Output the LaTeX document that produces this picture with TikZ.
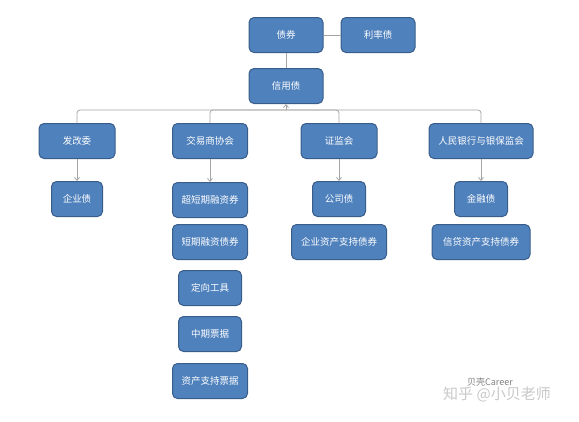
\documentclass[tikz,border=0pt]{standalone}
\usepackage{fontspec}
\setmainfont{Noto Sans CJK SC}
\usetikzlibrary{arrows.meta}
\definecolor{boxblue}{RGB}{79,129,189}
\definecolor{boxedge}{RGB}{56,93,138}
\definecolor{linkgray}{RGB}{165,165,165}
\definecolor{markgray}{RGB}{200,200,200}

\begin{document}
\begin{tikzpicture}[x=1pt,y=1pt,yscale=-1,xscale=1,
    orgbox/.style={draw=boxedge, line width=1pt, fill=boxblue, rounded corners=5pt,
        text=white, font=\fontsize{9.5}{11}\selectfont, minimum height=35pt, inner sep=2pt},
    link/.style={draw=linkgray, line width=0.8pt},
    tip/.style={-{Straight Barb[length=3pt,width=5pt]}}]
    \useasboundingbox (0,0) rectangle (579,421); %same size as the reference

    % Top row
    \node [orgbox, minimum width=74pt] (zhaiquan) at (286,35) {债券};
    \node [orgbox, minimum width=74pt] (lilv) at (378,35) {利率债};
    \node [orgbox, minimum width=74pt] (xinyong) at (286,86) {信用债};

    % Regulators
    \node [orgbox, minimum width=76pt] (fagai) at (77,141) {发改委};
    \node [orgbox, minimum width=75pt] (jiaoyi) at (210,141) {交易商协会};
    \node [orgbox, minimum width=76pt] (zhengjian) at (339,141) {证监会};
    \node [orgbox, minimum width=104pt] (renhang) at (481,141) {人民银行与银保监会};

    % Products
    \node [orgbox, minimum width=51pt] (qiyezhai) at (77,199) {企业债};
    \node [orgbox, minimum width=75pt] (chaoduan) at (210,200) {超短期融资券};
    \node [orgbox, minimum width=75pt] (duanqi) at (210,242) {短期融资债券};
    \node [orgbox, minimum width=63pt] (dingxiang) at (210,288) {定向工具};
    \node [orgbox, minimum width=63pt] (zhongqi) at (210,334) {中期票据};
    \node [orgbox, minimum width=75pt] (zichanpj) at (210,381) {资产支持票据};
    \node [orgbox, minimum width=53pt] (gongsi) at (339,199) {公司债};
    \node [orgbox, minimum width=95pt] (qiyezc) at (339,242) {企业资产支持债券};
    \node [orgbox, minimum width=53pt] (jinrong) at (481,199) {金融债};
    \node [orgbox, minimum width=98pt] (xindai) at (481,242) {信贷资产支持债券};

    % Watermark
    \node [text=markgray, font=\fontsize{15}{17}\selectfont] (zhihu) at (497,394) {知乎 @小贝老师};
    \node [text=gray, font=\fontsize{9}{10}\selectfont] (beike) at (490,382) {贝壳Career};

    % Connectors
    \coordinate (bus) at (286,110);
    \draw [link] (zhaiquan) -- (lilv);
    \draw [link] (zhaiquan) -- (xinyong);
    \draw [link, tip] (bus) -- (xinyong.south);
    \draw [link, rounded corners=3pt] (fagai.north) |- (bus);
    \draw [link, rounded corners=3pt] (jiaoyi.north) |- (bus);
    \draw [link, rounded corners=3pt] (zhengjian.north) |- (bus);
    \draw [link, rounded corners=3pt] (renhang.north) |- (bus);
    \draw [link, tip] (fagai) -- (qiyezhai);
    \draw [link, tip] (jiaoyi) -- (chaoduan);
    \draw [link, tip] (zhengjian) -- (gongsi);
    \draw [link, tip] (renhang) -- (jinrong);
\end{tikzpicture}
\end{document}
